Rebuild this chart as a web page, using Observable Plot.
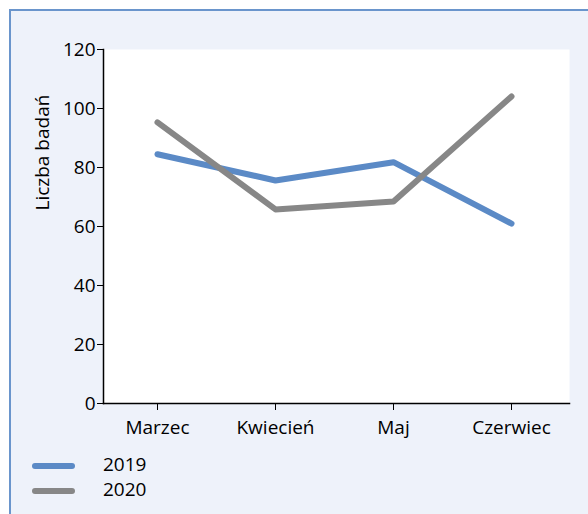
<!DOCTYPE html>
<html>
<head>
<meta charset="utf-8">
<script src="https://cdn.jsdelivr.net/npm/d3@7"></script>
<script src="https://cdn.jsdelivr.net/npm/@observablehq/plot@0.6"></script>
<style>
  html, body { margin: 0; padding: 0; }
  body { width: 588px; height: 514px; overflow: hidden; background: #ffffff; position: relative; font-family: "Open Sans", sans-serif; }
  #panel { position: absolute; left: 9px; top: 9px; width: 600px; height: 520px; background: #eef2fa; border-top: 2px solid #6a95cc; border-left: 2px solid #6a95cc; box-sizing: border-box; }
  #chart { position: absolute; left: 0; top: 0; }
  .sw { position: absolute; left: 32px; width: 43px; height: 6px; border-radius: 3px; }
  .lb { position: absolute; left: 103px; font-size: 19px; line-height: 19px; color: #000; }
</style>
</head>
<body>
<div id="panel"></div>
<div id="chart"></div>
<div id="legend"></div>
<script>
const months = ["Marzec", "Kwiecień", "Maj", "Czerwiec"];
const series = ["2019", "2020"];
const values2019 = [84.5, 75.6, 81.8, 61.0];
const values2020 = [95.3, 65.8, 68.5, 104.1];
const yTicks = [0, 20, 40, 60, 80, 100, 120];
const colors = ["#5b8ac6", "#878787"];
const yLabel = "Liczba badań";

const data = [];
months.forEach((m, i) => data.push({month: m, series: "2019", value: values2019[i]}));
months.forEach((m, i) => data.push({month: m, series: "2020", value: values2020[i]}));

const chart = Plot.plot({
  width: 588,
  height: 440,
  marginLeft: 103,
  marginRight: 19,
  marginTop: 49,
  marginBottom: 37,
  style: {background: "transparent", fontFamily: "'Open Sans', sans-serif", fontSize: "19px", color: "#000", overflow: "visible"},
  x: {type: "point", domain: months, range: [157, 511], padding: 0, label: null},
  y: {domain: [0, 120], label: null},
  color: {domain: series, range: colors},
  marks: [
    Plot.frame({fill: "white", stroke: null}),
    Plot.axisY({ticks: yTicks, tickSize: 6, tickPadding: 2, label: null, fontSize: 19}),
    Plot.axisX({tickSize: 7, tickPadding: 10, label: null, fontSize: 19}),
    Plot.frame({anchor: "left", stroke: "#000", strokeWidth: 1.5}),
    Plot.frame({anchor: "bottom", stroke: "#000", strokeWidth: 1.5}),
    Plot.line(data, {x: "month", y: "value", z: "series", stroke: "series", strokeWidth: 6, strokeLinecap: "round", strokeLinejoin: "round"}),
    Plot.text([yLabel], {frameAnchor: "left", dx: -61, dy: -16, rotate: -90, fontSize: 19, fill: "#000"})
  ]
});
document.getElementById("chart").appendChild(chart);

const legend = document.getElementById("legend");
series.forEach((s, i) => {
  const sw = document.createElement("div");
  sw.className = "sw";
  sw.style.top = (463 + i * 25) + "px";
  sw.style.background = colors[i];
  legend.appendChild(sw);
  const lb = document.createElement("div");
  lb.className = "lb";
  lb.style.top = (455 + i * 25) + "px";
  lb.textContent = s;
  legend.appendChild(lb);
});
</script>
</body>
</html>
